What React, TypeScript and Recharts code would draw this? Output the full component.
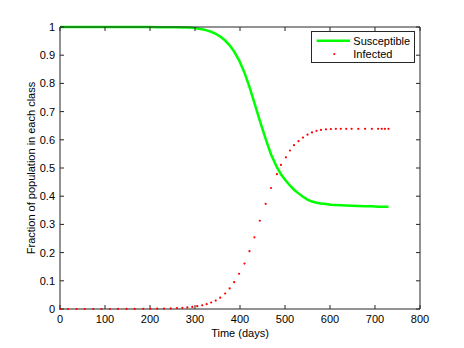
import React from 'react';
import { LineChart, Line, XAxis, YAxis, Legend } from 'recharts';

// time steps (days) of the solver output
const times = [
  0, 18, 37, 55, 74, 92, 111, 129, 148, 166,
  185, 201, 216, 231, 246, 260, 272, 283, 294, 305,
  316, 326, 336, 346, 356, 367, 377, 387, 398, 410,
  421, 432, 444, 457, 469, 482, 491, 502, 511, 520,
  530, 540, 550, 560, 570, 580, 591, 602, 613, 624,
  636, 648, 663, 678, 693, 707, 715, 722, 730,
];

const susceptible = [
  1, 1, 1, 1, 1, 1, 1, 1, 1, 0.9999,
  0.9998, 0.9997, 0.9995, 0.9993, 0.999, 0.9987, 0.9983, 0.998, 0.997, 0.995,
  0.992, 0.988, 0.983, 0.976, 0.966, 0.952, 0.935, 0.913, 0.882, 0.838,
  0.788, 0.731, 0.668, 0.603, 0.548, 0.503, 0.478, 0.455, 0.438, 0.423,
  0.41, 0.398, 0.388, 0.381, 0.377, 0.374, 0.372, 0.37, 0.369, 0.368,
  0.367, 0.366, 0.365, 0.364, 0.364, 0.363, 0.363, 0.363, 0.363,
];

const infected = [
  0.00001, 0.00001, 0.00001, 0.00002, 0.00003, 0.00005, 0.00008, 0.00013, 0.0002, 0.0003,
  0.0005, 0.0008, 0.0011, 0.0016, 0.0023, 0.0032, 0.0043, 0.0057, 0.0075, 0.01,
  0.013, 0.017, 0.023, 0.03, 0.04, 0.055, 0.073, 0.095, 0.125, 0.161,
  0.205, 0.254, 0.313, 0.373, 0.429, 0.478, 0.511, 0.538, 0.562, 0.581,
  0.595, 0.608, 0.618, 0.626, 0.632, 0.635, 0.637, 0.638, 0.639, 0.639,
  0.639, 0.639, 0.639, 0.639, 0.639, 0.639, 0.639, 0.639, 0.639,
];

const xTicks = [0, 100, 200, 300, 400, 500, 600, 700, 800];
const yTicks = [0, 0.1, 0.2, 0.3, 0.4, 0.5, 0.6, 0.7, 0.8, 0.9, 1];
const seriesNames = ['Susceptible', 'Infected'];
const xLabel = 'Time (days)';
const yLabel = 'Fraction of population in each class';

const data = times.map((t, i) => ({ t, S: susceptible[i], I: infected[i] }));

const FONT = '"Liberation Sans", Arial, Helvetica, sans-serif';
const AXIS = '#262626';
const GREEN = '#00ff00';
const RED = '#ff0000';

const NoTick = () => <g />;

const LegendBox = () => (
  <div
    style={{
      position: 'relative',
      width: 104,
      height: 32,
      boxSizing: 'border-box',
      border: `1px solid ${AXIS}`,
      background: '#fff',
      fontFamily: FONT,
      fontSize: 11,
      color: '#000',
    }}
  >
    <svg width={102} height={30} style={{ position: 'absolute', left: 0, top: 0, overflow: 'visible' }}>
      <line x1={4.7} x2={38} y1={8.7} y2={8.7} stroke={GREEN} strokeWidth={2.5} />
      <text x={41.3} y={12.7} fontSize={11} fill="#000" fontFamily={FONT}>{seriesNames[0]}</text>
      <circle cx={22.3} cy={22} r={1.1} fill={RED} />
      <text x={41.3} y={26} fontSize={11} fill="#000" fontFamily={FONT}>{seriesNames[1]}</text>
    </svg>
  </div>
);

export default function App() {
  const tickStyle = { fill: '#000', fontSize: 11, fontFamily: FONT };
  return (
    <div style={{ position: 'absolute', left: 0, top: 0, width: 464, height: 348, background: '#fff' }}>
      <LineChart
        width={464}
        height={348}
        data={data}
        margin={{ top: 26, right: 43, bottom: 9, left: 0 }}
        style={{ fontFamily: FONT }}
      >
        <XAxis
          dataKey="t"
          type="number"
          domain={[0, 800]}
          ticks={xTicks}
          interval={0}
          height={30}
          stroke={AXIS}
          tickSize={-4}
          tickMargin={10}
          tick={tickStyle}
          label={{ value: xLabel, position: 'insideBottom', offset: 2, fill: '#000', fontSize: 11, fontFamily: FONT }}
        />
        <XAxis
          xAxisId="top"
          orientation="top"
          dataKey="t"
          type="number"
          domain={[0, 800]}
          allowDataOverflow
          ticks={xTicks}
          interval={0}
          height={1}
          stroke={AXIS}
          tickSize={-4}
          tick={NoTick}
        />
        <YAxis
          type="number"
          domain={[0, 1]}
          ticks={yTicks}
          interval={0}
          width={60}
          stroke={AXIS}
          tickSize={-4}
          tickMargin={9}
          tick={tickStyle}
          tickFormatter={(v: number) => String(v)}
          label={{
            value: yLabel,
            angle: -90,
            position: 'insideLeft',
            offset: 31,
            fill: '#000',
            fontSize: 11,
            fontFamily: FONT,
            style: { textAnchor: 'middle' },
          }}
        />
        <YAxis
          yAxisId="right"
          orientation="right"
          type="number"
          domain={[0, 1]}
          allowDataOverflow
          ticks={yTicks}
          interval={0}
          width={1}
          stroke={AXIS}
          tickSize={-4}
          tick={NoTick}
        />
        <Line
          dataKey="S"
          name={seriesNames[0]}
          type="linear"
          stroke={GREEN}
          strokeWidth={2.5}
          dot={false}
          activeDot={false}
          isAnimationActive={false}
        />
        <Line
          dataKey="I"
          name={seriesNames[1]}
          type="linear"
          stroke="none"
          strokeWidth={0}
          dot={{ r: 1.1, fill: RED, stroke: 'none' }}
          activeDot={false}
          isAnimationActive={false}
        />
        <Line
          xAxisId="top"
          yAxisId="right"
          dataKey="I"
          legendType="none"
          stroke="none"
          strokeWidth={0}
          dot={false}
          activeDot={false}
          isAnimationActive={false}
        />
        <Legend
          layout="vertical"
          verticalAlign="middle"
          align="center"
          content={() => <LegendBox />}
          wrapperStyle={{ position: 'absolute', left: 311, top: 31, width: 104, height: 32 }}
        />
      </LineChart>
    </div>
  );
}
